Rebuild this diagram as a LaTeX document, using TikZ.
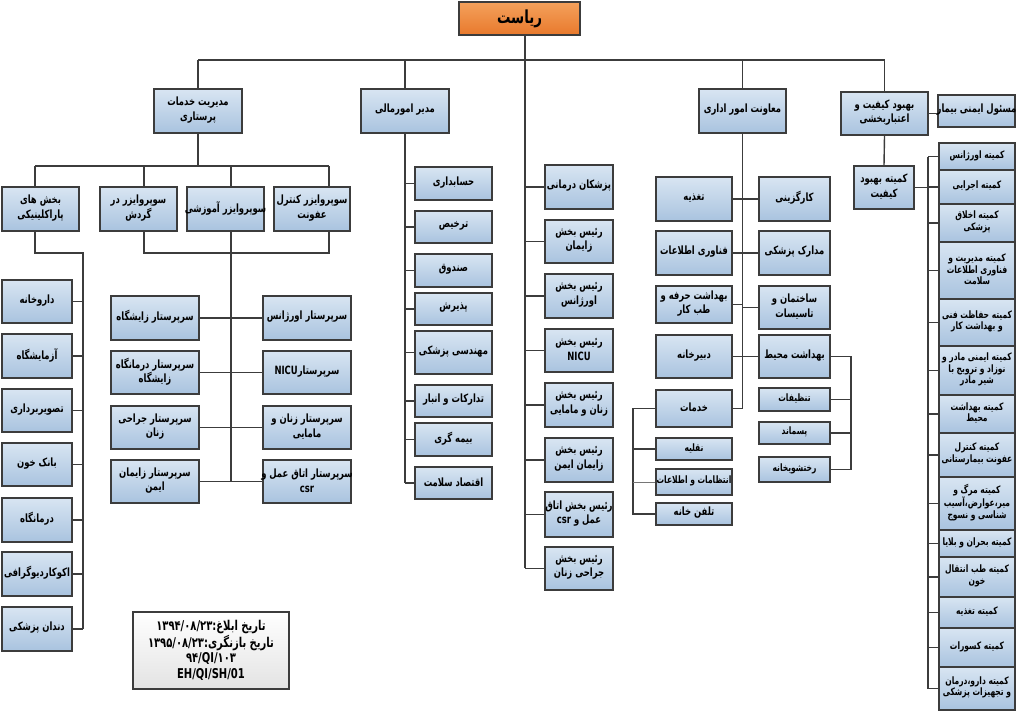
\documentclass[tikz,border=0pt]{standalone}
\usepackage{fontspec}
\newfontfamily\arabicfont[Script=Arabic,FakeStretch=0.74]{DejaVu Sans}
\TeXXeTstate=1
\newcommand\fa[1]{\beginR#1\endR}
\newcommand\la[1]{\beginL#1\endL{}}
\definecolor{linec}{HTML}{3C3C3C}
\definecolor{boxtop}{HTML}{D8E5F2}
\definecolor{boxbot}{HTML}{A9C3DF}
\definecolor{orgtop}{HTML}{F4A15C}
\definecolor{orgbot}{HTML}{E8792C}
\tikzset{
  box/.style={draw=linec,line width=1.5pt,top color=boxtop,bottom color=boxbot,inner sep=0pt},
  txt/.style={inner sep=0pt,align=center,font=\arabicfont\bfseries\fontsize{11.4}{14.5}\selectfont},
  ctxt/.style={txt,font=\arabicfont\bfseries\fontsize{10.2}{11.5}\selectfont},
  conn/.style={draw=linec,line width=1.4pt},
  thinconn/.style={draw=linec!70,line width=0.6pt}
}
\newcommand\bx[7][]{\node[box,minimum width={(#5-#3)*1pt},minimum height={(#6-#4)*1pt}] (#2) at ({(#3+#5)/2},{(#4+#6)/2}) {};
  \node[txt,#1] (#2-t) at ([yshift=1pt]#2.center) {#7};}
\begin{document}
\begin{tikzpicture}[x=1pt,y=-1pt]
\useasboundingbox (0,0) rectangle (1024,715);
\fill[white] (0,0) rectangle (1024,715);
% top
\node[box,top color=orgtop,bottom color=orgbot,minimum width=121pt,minimum height=33pt] (r) at (519.5,18.5) {};
\node[txt,font=\arabicfont\bfseries\fontsize{18}{20}\selectfont] (r-t) at (r.center) {\fa{ریاست}};
% level 1
\bx{n1}{154}{89}{242}{133}{\fa{مدیریت خدمات}\\\fa{پرستاری}}
\bx{n2}{361}{89}{449}{133}{\fa{مدیر امورمالی}}
\bx{n3}{699}{89}{786}{133}{\fa{معاونت امور اداری}}
\bx{n4}{841}{92}{928}{135}{\fa{بهبود کیفیت و}\\\fa{اعتباربخشی}}
\bx{n5}{938}{95}{1015}{127}{\fa{مسئول ایمنی بیمار}}
% nursing supervisors
\bx{s1}{2}{187}{79}{231}{\fa{بخش های}\\\fa{پاراکلینیکی}}
\bx{s2}{100}{187}{177}{231}{\fa{سوپروایزر در}\\\fa{گردش}}
\bx{s3}{187}{187}{264}{231}{\fa{سوپروایزر آموزشی}}
\bx{s4}{274}{187}{350}{231}{\fa{سوپروایزر کنترل}\\\fa{عفونت}}
% paraclinic
\bx{p1}{2}{280}{72}{323}{\fa{داروخانه}}
\bx{p2}{2}{334}{72}{378}{\fa{آزمایشگاه}}
\bx{p3}{2}{389}{72}{432}{\fa{تصویربرداری}}
\bx{p4}{2}{443}{72}{486}{\fa{بانک خون}}
\bx{p5}{2}{498}{72}{542}{\fa{درمانگاه}}
\bx{p6}{2}{552}{72}{596}{\fa{اکوکاردیوگرافی}}
\bx{p7}{2}{607}{72}{651}{\fa{دندان پزشکی}}
% head nurses
\bx{l1}{111}{296}{199}{340}{\fa{سرپرستار زایشگاه}}
\bx{l2}{111}{351}{199}{394}{\fa{سرپرستار درمانگاه}\\\fa{زایشگاه}}
\bx{l3}{111}{406}{199}{449}{\fa{سرپرستار جراحی}\\\fa{زنان}}
\bx{l4}{111}{460}{199}{503}{\fa{سرپرستار زایمان}\\\fa{ایمن}}
\bx{h1r}{263}{296}{351}{340}{\fa{سرپرستار اورژانس}}
\bx{h2r}{263}{351}{351}{394}{\fa{سرپرستار\la{NICU}}}
\bx{h3r}{263}{406}{351}{449}{\fa{سرپرستار زنان و}\\\fa{مامایی}}
\bx{h4r}{263}{460}{351}{503}{\fa{سرپرستار اتاق عمل و}\\\la{csr}}
% finance
\bx{f1}{415}{167}{492}{200}{\fa{حسابداری}}
\bx{f2}{415}{211}{492}{243}{\fa{ترخیص}}
\bx{f3}{415}{254}{492}{287}{\fa{صندوق}}
\bx{f4}{415}{293}{492}{325}{\fa{پذیرش}}
\bx{f5}{415}{331}{492}{374}{\fa{مهندسی پزشکی}}
\bx{f6}{415}{385}{492}{417}{\fa{تدارکات و انبار}}
\bx{f7}{415}{423}{492}{456}{\fa{بیمه گری}}
\bx{f8}{415}{467}{492}{499}{\fa{اقتصاد سلامت}}
% central
\bx{c1}{545}{165}{613}{209}{\fa{پزشکان درمانی}}
\bx{c2}{545}{220}{613}{263}{\fa{رئیس بخش}\\\fa{زایمان}}
\bx{c3}{545}{274}{613}{318}{\fa{رئیس بخش}\\\fa{اورژانس}}
\bx{c4}{545}{329}{613}{372}{\fa{رئیس بخش}\\\la{NICU}}
\bx{c5}{545}{383}{613}{427}{\fa{رئیس بخش}\\\fa{زنان و مامایی}}
\bx{c6}{545}{438}{613}{482}{\fa{رئیس بخش}\\\fa{زایمان ایمن}}
\bx{c7}{545}{492}{613}{537}{\fa{رئیس بخش اتاق}\\\fa{عمل و \la{csr}}}
\bx{c8}{545}{547}{613}{590}{\fa{رئیس بخش}\\\fa{جراحی زنان}}
% admin
\bx{a1l}{656}{177}{732}{221}{\fa{تغذیه}}
\bx{a1r}{759}{177}{830}{221}{\fa{کارگزینی}}
\bx{a2l}{656}{231}{732}{275}{\fa{فناوری اطلاعات}}
\bx{a2r}{759}{231}{830}{275}{\fa{مدارک پزشکی}}
\bx{a3l}{656}{286}{732}{323}{\fa{بهداشت حرفه و}\\\fa{طب کار}}
\bx{a3r}{759}{286}{830}{329}{\fa{ساختمان و}\\\fa{تاسیسات}}
\bx{a4l}{656}{335}{732}{378}{\fa{دبیرخانه}}
\bx{a4r}{759}{335}{830}{378}{\fa{بهداشت محیط}}
\bx{a5}{656}{390}{732}{427}{\fa{خدمات}}
\bx[ctxt]{k1}{656}{438}{732}{460}{\fa{نقلیه}}
\bx[ctxt]{k2}{656}{469}{732}{495}{\fa{انتظامات و اطلاعات}}
\bx{k3}{656}{503}{732}{525}{\fa{تلفن خانه}}
\bx[ctxt]{e1}{759}{388}{830}{411}{\fa{تنظیفات}}
\bx[ctxt]{e2}{759}{422}{830}{444}{\fa{پسماند}}
\bx[ctxt]{e3}{759}{457}{830}{482}{\fa{رختشویخانه}}
% quality
\bx{q}{854}{166}{914}{209}{\fa{کمیته بهبود}\\\fa{کیفیت}}
\bx[ctxt]{m1}{939}{143}{1015}{170}{\fa{کمیته اورژانس}}
\bx[ctxt]{m2}{939}{170}{1015}{204}{\fa{کمیته اجرایی}}
\bx[ctxt]{m3}{939}{204}{1015}{242}{\fa{کمیته اخلاق}\\\fa{پزشکی}}
\bx[ctxt]{m4}{939}{242}{1015}{299}{\fa{کمیته مدیریت و}\\\fa{فناوری اطلاعات}\\\fa{سلامت}}
\bx[ctxt]{m5}{939}{299}{1015}{346}{\fa{کمیته حفاظت فنی}\\\fa{و بهداشت کار}}
\bx[ctxt]{m6}{939}{346}{1015}{395}{\fa{کمیته ایمنی مادر و}\\\fa{نوزاد و ترویج با}\\\fa{شیر مادر}}
\bx[ctxt]{m7}{939}{395}{1015}{433}{\fa{کمیته بهداشت}\\\fa{محیط}}
\bx[ctxt]{m8}{939}{433}{1015}{477}{\fa{کمیته کنترل}\\\fa{عفونت بیمارستانی}}
\bx[ctxt]{m9}{939}{477}{1015}{530}{\fa{کمیته مرگ و}\\\fa{میر،عوارض،آسیب}\\\fa{شناسی و نسوج}}
\bx[ctxt]{m10}{939}{530}{1015}{557}{\fa{کمیته بحران و بلایا}}
\bx[ctxt]{m11}{939}{557}{1015}{597}{\fa{کمیته طب انتقال}\\\fa{خون}}
\bx[ctxt]{m12}{939}{597}{1015}{628}{\fa{کمیته تغذیه}}
\bx[ctxt]{m13}{939}{628}{1015}{667}{\fa{کمیته کسورات}}
\bx[ctxt]{m14}{939}{667}{1015}{710}{\fa{کمیته دارو،درمان}\\\fa{و تجهیزات پزشکی}}
% info
\node[draw=linec,line width=1.8pt,top color=white,bottom color=gray!22,
  minimum width=156pt,minimum height=77pt,inner sep=0pt] (info) at (211,650.5) {};
\node[txt,font=\arabicfont\bfseries\fontsize{13.5}{15.5}\selectfont] (info-t) at (info.center)
  {\fa{تاریخ ابلاغ:\la{۱۳۹۴/۰۸/۲۳}}\\\fa{تاریخ بازنگری:\la{۱۳۹۵/۰۸/۲۳}}\\\la{۹۴/QI/۱۰۳}\\\la{EH/QI/SH/01}};
% ---------- connectors ----------
\coordinate (rtop) at (525,35); \coordinate (rbot) at (525,568);
\coordinate (barL) at (198,60); \coordinate (barR) at (884.5,60);
\draw[conn] (barL) -- (barR);
\draw[conn] (rtop) -- (rbot);
\draw[conn] (barL) -- (n1.north);
\draw[conn] (n2.north |- barL) -- (n2.north);
\draw[conn] (n3.north |- barL) -- (n3.north);
\draw[conn] (barR) -- (n4.north);
\draw[conn] (n4.east) -- (n4.east -| n5.west);
% nursing
\coordinate (nb1) at (35,166); \coordinate (nb2) at (329,166);
\coordinate (d2) at (144,166); \coordinate (d3) at (231,166);
\draw[conn] (n1.south) -- (n1.south |- nb1);
\draw[conn] (nb1) -- (nb2);
\draw[conn] (nb1) -- (nb1 |- s1.north);
\draw[conn] (d2) -- (d2 |- s2.north);
\draw[conn] (d3) -- (d3 |- s3.north);
\draw[conn] (nb2) -- (nb2 |- s4.north);
\coordinate (u1) at (35,253); \coordinate (u1r) at (83,253); \coordinate (pbot) at (83,629);
\draw[conn] (s1.south -| u1) -- (u1) -- (u1r) -- (pbot);
\foreach \i in {1,...,7} \draw[conn] (p\i.east) -- (p\i.east -| u1r);
\coordinate (u2) at (144,253); \coordinate (u4) at (329,253);
\coordinate (c3x) at (231,253); \coordinate (cbot) at (231,481);
\draw[conn] (s2.south -| u2) -- (u2) -- (u4) -- (s4.south -| u4);
\draw[conn] (s3.south -| c3x) -- (cbot);
\foreach \i in {1,...,4} \draw[conn] (l\i.east) -- (l\i.east -| c3x);
\foreach \i in {1,...,4} \draw[conn] (h\i r.west) -- (h\i r.west -| c3x);
% finance
\coordinate (fbot) at (405,483);
\draw[conn] (n2.south) -- (fbot);
\foreach \i in {1,...,8} \draw[conn] (f\i.west) -- (f\i.west -| fbot);
% central
\foreach \i in {1,...,8} \draw[conn] (c\i.west) -- (c\i.west -| rtop);
% admin
\draw[conn] (n3.south) -- (n3.south |- a5.east) -- (a5.east);
\foreach \i in {1,...,4} {
  \draw[conn] (a\i l.east) -- (a\i l.east -| n3.south);
  \draw[conn] (a\i r.west) -- (a\i r.west -| n3.south);}
\coordinate (kx) at (633,0);
\draw[conn] (a5.west) -- (a5.west -| kx) -- (k3.west -| kx) -- (k3.west);
\draw[conn] (k1.west) -- (k1.west -| kx);
\draw[thinconn] (k2.west) -- (k2.west -| kx);
\coordinate (hx) at (851,0);
\draw[conn] (a4r.east) -- (a4r.east -| hx) -- (e3.east -| hx) -- (e3.east);
\draw[conn] (e1.east) -- (e1.east -| hx);
\draw[conn] (e2.east) -- (e2.east -| hx);
% quality
\draw[conn] (n4.south) -- (q.north);
\coordinate (qx) at (928,0);
\draw[conn] (q.east) -- (q.east -| qx);
\draw[conn] (m1.west -| qx) -- (m14.west -| qx);
\foreach \i in {1,...,14} \draw[conn] (m\i.west) -- (m\i.west -| qx);
\end{tikzpicture}
\end{document}
